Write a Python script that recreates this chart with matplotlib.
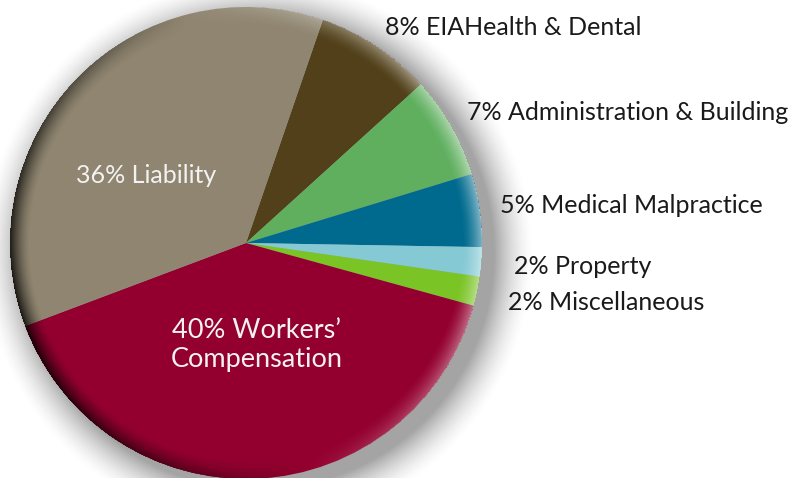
import numpy as np
import matplotlib.pyplot as plt

# share of total cost, in drawing order (clockwise from the top)
labels = ["8% EIAHealth & Dental", "7% Administration & Building",
          "5% Medical Malpractice", "2% Property", "2% Miscellaneous",
          "40% Workers\u2019\nCompensation", "36% Liability"]
shares = [8, 7, 5, 2, 2, 40, 36]
colors = ["#514019", "#5FAF5F", "#006A8E", "#85C9D4", "#7AC426",
          "#93002F", "#8F8570"]

W, H = 796, 478
cx, cy, R = 246, H - 243, 236
font = ["Lato", "DejaVu Sans"]

fig = plt.figure(figsize=(W / 100, H / 100), dpi=100)
ax = fig.add_axes([0, 0, 1, 1])

# soft drop shadow, lower right
yy, xx = np.mgrid[0:H, 0:W] + 0.5
d = np.hypot(xx - (cx + 12), yy - (cy - 10)) - R
shadow = np.zeros((H, W, 4))
shadow[..., :3] = 0.35
shadow[..., 3] = 0.55 * np.clip(1 - d / 40, 0, 1) ** 1.6
ax.imshow(shadow, extent=(0, W, 0, H), origin="lower", zorder=0,
          interpolation="bilinear")

ax.pie(shares, colors=colors, startangle=71, counterclock=False,
       center=(cx, cy), radius=R, wedgeprops=dict(linewidth=0), frame=True)

# bevelled rim: light from the right, dark on the left
x0, x1, y0, y1 = cx - R - 2, cx + R + 2, cy - R - 2, cy + R + 2
gy, gx = np.mgrid[y0:y1, x0:x1] + 0.5
r = np.hypot(gx - cx, gy - cy)
th = np.arctan2(gy - cy, gx - cx)
light = np.cos(th - np.radians(15))
s = np.clip(1 - (R - r) / 20, 0, 1) ** 1.5
s[r > R] = 0
rim = np.zeros(gx.shape + (4,))
rim[..., :3] = np.where(light > 0, 1.0, 0.0)[..., None]
rim[..., 3] = np.where(light > 0, 0.5 * light, 0.82 * -light) * s
ax.imshow(rim, extent=(x0, x1, y0, y1), origin="lower", zorder=2,
          interpolation="bilinear")

# labels inside the big slices
ax.text(146, H - 175, labels[6], color="#f2f2f2", fontsize=18, family=font,
        ha="center", va="center", zorder=3)
ax.text(257, H - 345, labels[5], color="#f2f2f2", fontsize=19.5, family=font,
        ha="center", va="center", linespacing=1.25, zorder=3)

# labels outside for the small slices
outer = [(385, 27), (467, 112), (500, 205), (514, 267), (508, 302)]
for lab, (tx, ty) in zip(labels[:5], outer):
    ax.text(tx, H - ty, lab, color="#1a1a1a", fontsize=18, family=font,
            ha="left", va="center", zorder=3)

ax.set_xlim(0, W)
ax.set_ylim(0, H)
ax.set_axis_off()

fig.savefig("out.png", dpi=100)
